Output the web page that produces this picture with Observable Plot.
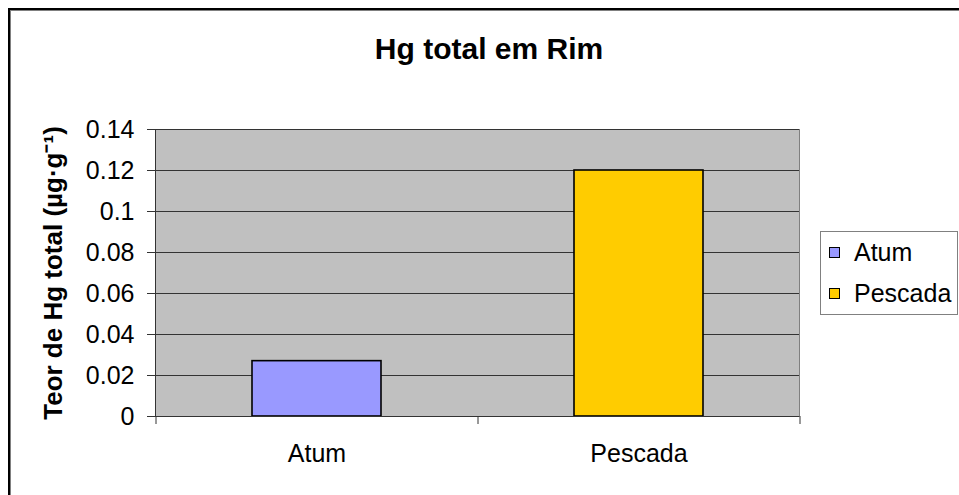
<!DOCTYPE html>
<html>
<head>
<meta charset="utf-8">
<script src="https://cdn.jsdelivr.net/npm/d3@7"></script>
<script src="https://cdn.jsdelivr.net/npm/@observablehq/plot@0.6"></script>
<style>
  html, body { margin: 0; padding: 0; overflow: hidden; background: #fff; }
  #page { position: relative; width: 959px; height: 495px; overflow: hidden; background: #fff;
          font-family: "Liberation Sans", Arial, sans-serif; color: #000; }
  #border { position: absolute; left: 8px; top: 8px; width: 2000px; height: 2000px;
            border-top: 2px solid #000; border-left: 2px solid #000;
            box-shadow: inset 1px 1px 0 #808080; }
  #chart { position: absolute; left: 0; top: 0; }
  #title { position: absolute; left: 0; top: 34px; width: 978px; text-align: center;
           font-weight: bold; font-size: 30px; line-height: 30px; white-space: nowrap; }
  #legend { position: absolute; left: 820px; top: 231px; width: 138px; height: 84px;
            box-sizing: border-box; border: 1px solid #808080; background: #fff; }
  .item { display: flex; align-items: center; height: 41px; font-size: 25px; white-space: nowrap; }
  .sw { width: 11px; height: 11px; box-sizing: border-box; border: 1px solid #000;
        margin-left: 8px; margin-right: 14px; flex: none; }
</style>
</head>
<body>
<div id="page">
  <div id="border"></div>
  <div id="chart"></div>
  <div id="title"></div>
  <div id="legend"></div>
</div>
<script>
const categories = ["Atum", "Pescada"];
const values = [0.027, 0.12];
const colors = ["#9999ff", "#ffcc00"];
const yTicks = [0, 0.02, 0.04, 0.06, 0.08, 0.1, 0.12, 0.14];
const titleText = "Hg total em Rim";
const yLabel = "Teor de Hg total (µg·g⁻¹)";

const data = categories.map((c, i) => ({category: c, value: values[i], color: colors[i]}));

const W = 959, H = 495, mL = 155, mR = 160, mT = 129, mB = 79;
const padInner = 0.6, padOuter = 0.3;
const step = (W - mL - mR) / (categories.length - padInner + 2 * padOuter);
const font = "'Liberation Sans', Arial, sans-serif";

const chart = Plot.plot({
  width: W, height: H,
  marginLeft: mL, marginRight: mR, marginTop: mT, marginBottom: mB,
  style: {fontFamily: font, fontSize: "25px", color: "#000", background: "transparent", overflow: "visible"},
  x: {domain: categories, paddingInner: padInner, paddingOuter: padOuter, label: null},
  y: {domain: [0, 0.14], label: null},
  marks: [
    Plot.frame({fill: "#c0c0c0", stroke: "#808080"}),
    Plot.ruleY(yTicks, {stroke: "#333", strokeWidth: 1}),
    Plot.barY(data, {x: "category", y: "value", fill: "color", stroke: "#000", strokeWidth: 1.6}),
    Plot.frame({anchor: "left", stroke: "#333"}),
    Plot.ruleY([0], {stroke: "#333"}),
    Plot.axisY({ticks: yTicks, tickSize: 8, tickPadding: 13, stroke: "#333",
                tickFormat: d => String(+d.toFixed(2)), fontSize: 25,
                label: yLabel, labelAnchor: "center", labelOffset: 112, labelArrow: "none"}),
    Plot.axisX({tickSize: 0, tickPadding: 28, fontSize: 25, label: null}),
    Plot.axisX({tickSize: 8, stroke: "#333", tickFormat: () => "", dx: -step / 2, label: null}),
    Plot.axisX({ticks: [categories[categories.length - 1]], tickSize: 8, stroke: "#333",
                tickFormat: () => "", dx: step / 2, label: null})
  ]
});
document.getElementById("chart").appendChild(chart);

// bold axis title
d3.select(chart).selectAll("g[aria-label='y-axis label'] text")
  .style("font-weight", "bold").style("font-size", "26px");

document.getElementById("title").textContent = titleText;

const legend = d3.select("#legend");
categories.forEach((c, i) => {
  const row = legend.append("div").attr("class", "item");
  row.append("div").attr("class", "sw").style("background", colors[i]);
  row.append("span").text(c);
});
</script>
</body>
</html>
